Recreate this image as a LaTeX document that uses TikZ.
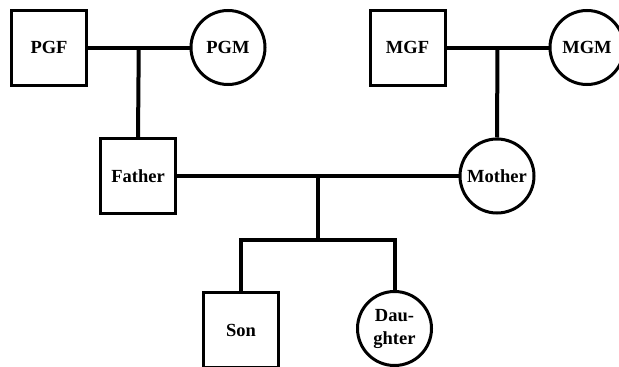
\documentclass[tikz,border=0pt]{standalone}
\usepackage{fontspec}
\setmainfont{Liberation Serif}
\usetikzlibrary{calc}
\begin{document}
\begin{tikzpicture}[x=1pt,y=-1pt,
  male/.style={draw,line width=3pt,rectangle,minimum size=75pt,inner sep=0pt,
    font=\fontsize{18.5}{23}\selectfont\bfseries,align=center},
  female/.style={draw,line width=3pt,circle,minimum size=74pt,inner sep=0pt,
    font=\fontsize{18.5}{23}\selectfont\bfseries,align=center},
  link/.style={line width=4pt,line join=miter}]
  \useasboundingbox (0,0) rectangle (619,367);
  % grandparents
  \node[male]   (pgf) at (49,47.5) {PGF};
  \node[female] (pgm) at (228,47.5) {PGM};
  \node[male]   (mgf) at (407.5,47.5) {MGF};
  \node[female] (mgm) at (587,47.5) {MGM};
  % parents
  \node[male]   (father) at (138,176) {Father};
  \node[female] (mother) at (497,176) {Mother};
  % children
  \node[male]   (son) at (241,330) {Son};
  \node[female] (daughter) at (394.5,328.5) {Dau-\\ghter};
  % couple lines and descent lines
  \coordinate (pmid) at ($(pgf.east)!0.5!(pgm.west)$);
  \coordinate (mmid) at ($(mgf.east)!0.5!(mgm.west)$);
  \coordinate (fmid) at ($(father.east)!0.5!(mother.west)$);
  \coordinate (sib) at (fmid |- 0,240);
  \draw[link] (pgf.east) -- (pgm.west);
  \draw[link] (pmid) -- (father.north);
  \draw[link] (mgf.east) -- (mgm.west);
  \draw[link] (mmid) -- (mother.north);
  \draw[link] (father.east) -- (mother.west);
  \draw[link] (fmid) -- (sib);
  \draw[link] (son.north) |- (sib) -| (daughter.north);
\end{tikzpicture}
\end{document}
